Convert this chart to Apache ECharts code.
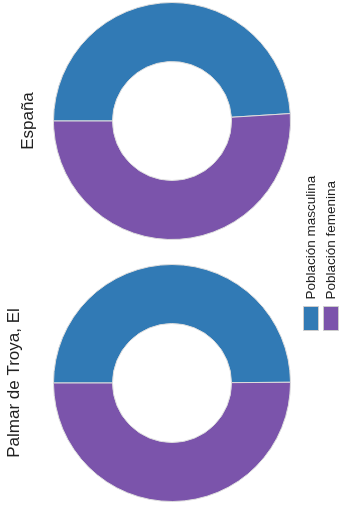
<!DOCTYPE html>
<html>
<head>
<meta charset="utf-8">
<style>
    html, body { margin: 0; padding: 0; background: #fff; overflow: hidden; }
    /* the chart is drawn landscape and turned a quarter turn to the left */
    #chart {
        position: absolute;
        left: 0;
        top: 0;
        width: 507px;
        height: 339px;
        transform-origin: top left;
        transform: translate(0, 507px) rotate(-90deg);
    }
</style>
<script src="https://cdn.jsdelivr.net/npm/echarts@6/dist/echarts.min.js"></script>
</head>
<body>
<div id="chart"></div>
<script>
const places = ['España', 'Palmar de Troya, El'];
const categories = ['Población masculina', 'Población femenina'];
const maleValues = [49.0, 49.9];
const femaleValues = [51.0, 50.1];
const colors = ['#317ab5', '#7b54ab'];

const chart = echarts.init(document.getElementById('chart'), null, { renderer: 'canvas' });

// pie centre and title offset for each place (landscape coordinates)
const centers = [[386, 172], [124, 172]];
const titleTops = [20, 6];

let option = {
    animation: false,
    color: colors,
    textStyle: { fontFamily: 'Liberation Sans, Arial, sans-serif' },
    title: places.map((name, i) => ({
        text: name,
        left: centers[i][0],
        top: titleTops[i],
        textAlign: 'center',
        padding: 0,
        textStyle: {
            fontSize: 17,
            fontWeight: 'normal',
            color: '#222',
            fontFamily: 'Liberation Sans, Arial, sans-serif'
        }
    })),
    legend: {
        orient: 'vertical',
        left: 176,
        top: 303,
        padding: 0,
        itemWidth: 24,
        itemHeight: 15,
        itemGap: 4,
        icon: 'rect',
        selectedMode: false,
        data: categories,
        itemStyle: { borderColor: '#ccc', borderWidth: 1 },
        textStyle: {
            fontSize: 13.5,
            color: '#222',
            padding: [0, 0, 0, 2]
        }
    },
    series: places.map((name, i) => ({
        name: name,
        type: 'pie',
        center: centers[i],
        radius: [59.5, 118.5],
        startAngle: 90,
        clockwise: true,
        label: { show: false },
        labelLine: { show: false },
        emphasis: { disabled: true },
        itemStyle: { borderColor: '#ddd', borderWidth: 1 },
        data: [
            { name: categories[0], value: maleValues[i] },
            { name: categories[1], value: femaleValues[i] }
        ]
    }))
};
chart.setOption(option);
</script>
</body>
</html>
